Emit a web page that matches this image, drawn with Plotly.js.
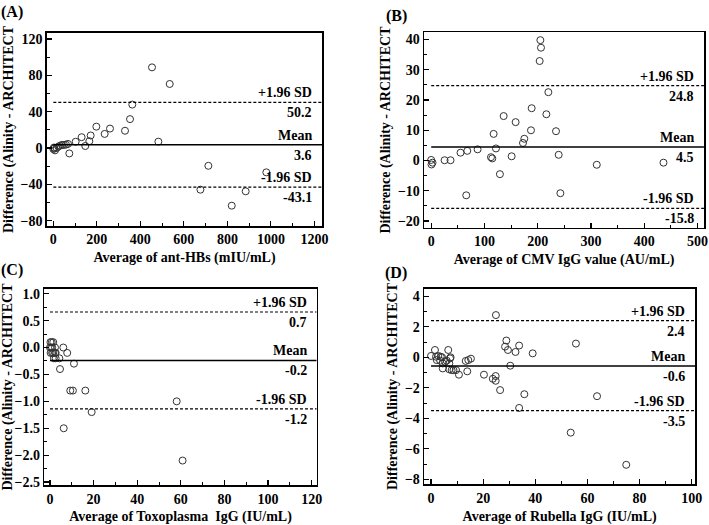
<!DOCTYPE html>
<html>
<head>
<meta charset="utf-8">
<script src="https://cdn.plot.ly/plotly-3.0.1.min.js"></script>
<style>html,body{margin:0;padding:0;background:#fff;}</style>
</head>
<body>
<div id="chart" style="width:709px;height:525px;"></div>
<script>
// ---- Panel A: anti-HBs ----
const aX = [0, 3, 5, 7.7, 15.3, 23, 30.7, 39.8, 49, 58.2, 67.4, 73.6, 102.7, 130, 147, 165.5, 171.6, 197.7, 236, 260.5, 329.5, 352.5, 363, 453.6, 482.8, 535, 676, 712.6, 820, 884, 979];
const aY = [-1.1, 0.5, -0.5, -2.6, 0, 1.5, 2.6, 3.4, 3.4, 3.7, 4.5, -6, 6.9, 11.9, 2.2, 7.5, 13.8, 23.5, 15.5, 21.4, 19, 31.8, 47.8, 88.8, 7, 70.5, -45.9, -19.6, -63.5, -47.7, -26.8];
const aLines = [50.2, 3.6, -43.1];
const aLabels = ["50.2", "3.6", "-43.1"];

// ---- Panel B: CMV IgG ----
const bX = [0, 0.6, 2.5, 25.1, 36.3, 55.1, 67.7, 65.8, 87.1, 112.2, 114.7, 117.2, 121.6, 129, 136, 151, 158.5, 172.3, 174.8, 187.3, 188.6, 203.6, 204.9, 206.1, 216.2, 219.9, 234.3, 239.3, 242.5, 310.8, 436];
const bY = [0.2, -1.3, -0.7, 0.1, 0.1, 2.6, 3.2, -11.5, 3.7, 1.1, 0.7, 8.8, 4.0, -4.5, 14.7, 1.4, 12.7, 5.8, 7.2, 10.0, 17.3, 32.9, 39.8, 37.3, 15.3, 22.6, 9.7, 1.9, -10.8, -1.4, -0.7];
const bLines = [24.8, 4.5, -15.8];
const bLabels = ["24.8", "4.5", "-15.8"];

// ---- Panel C: Toxoplasma IgG ----
const cX = [0.2, 0.8, 1.5, 0, 0.5, 1, 2.3, 0.3, 1, 1.5, 2.3, 2.6, 1.8, 2.6, 4.3, 4.6, 6.1, 7.9, 11, 9.3, 10.5, 16.2, 19.1, 6.3, 58.1, 60.8];
const cY = [0.1, 0.1, 0.1, 0, 0, 0, 0, -0.1, -0.1, -0.1, -0.1, -0.1, -0.2, -0.2, -0.2, -0.4, 0, -0.1, -0.3, -0.8, -0.8, -0.8, -1.2, -1.5, -1.0, -2.1];
const cLines = [0.66, -0.24, -1.14];
const cLabels = ["0.7", "-0.2", "-1.2"];

// ---- Panel D: Rubella IgG ----
const dX = [0, 1.5, 6.6, 1.9, 2.8, 3.7, 2.2, 3.5, 4.2, 4.5, 5.4, 6, 7.3, 7.5, 7, 4.5, 7, 7.9, 8.6, 9.6, 10.7, 13.3, 14.3, 15.3, 13.9, 20.3, 23.7, 24.8, 24.8, 26.5, 24.9, 28.9, 28.4, 29.5, 32.4, 33.8, 30.4, 39, 35.8, 33.8, 55.6, 63.7, 53.6, 74.9];
const dY = [0.09, 0.48, 0.48, 0.04, 0.09, 0.04, -0.18, -0.22, 0, -0.4, -0.29, -0.22, -0.07, 0, -0.4, -0.73, -0.79, -0.84, -0.84, -0.84, -1.14, -0.24, -0.18, -0.09, -0.92, -1.14, -1.41, -1.23, -1.54, -2.15, 2.77, 1.1, 0.7, 0.48, 0.35, 0.77, -0.55, 0.26, -2.42, -3.32, 0.9, -2.55, -4.94, -7.05];
const dLines = [2.4, -0.57, -3.5];
const dLabels = ["2.4", "-0.6", "-3.5"];

const xTitles = ["Average of ant-HBs (mIU/mL)", "Average of CMV IgG value (AU/mL)", "Average of Toxoplasma&nbsp; IgG (IU/mL)", "Average of Rubella IgG (IU/mL)"];
const yTitle = "Difference (Alinity - ARCHITECT";
const panelTags = ["(A)", "(B)", "(C)", "(D)"];
const lineNames = ["+1.96 SD", "Mean", "-1.96 SD"];

const FONT = "'Liberation Serif', 'Times New Roman', serif";

const panels = [
  {x: aX, y: aY, lines: aLines, labels: aLabels, xr: [-29, 1235], yr: [-85.9, 126.6], dx: 200, mx: 100, dy: 40, my: 20, yfmt: "",
   xd: [0.0663, 0.4542], yd: [0.5695, 0.9371]},
  {x: bX, y: bY, lines: bLines, labels: bLabels, xr: [-13, 512], yr: [-22.2, 42.4], dx: 100, mx: 50, dy: 10, my: 5, yfmt: "",
   xd: [0.5984, 0.9929], yd: [0.5663, 0.9385]},
  {x: cX, y: cY, lines: cLines, labels: cLabels, xr: [-2.6, 122.3], yr: [-2.56, 1.093], dx: 20, mx: 10, dy: 0.5, my: 0.25, yfmt: ".1f",
   xd: [0.0625, 0.4467], yd: [0.0756, 0.4501]},
  {x: dX, y: dY, lines: dLines, labels: dLabels, xr: [-2.6, 101.3], yr: [-8.33, 4.5], dx: 20, mx: 10, dy: 2, my: 1, yfmt: "",
   xd: [0.5984, 0.9803], yd: [0.0775, 0.4501]}
];

const traces = [];
const layout = {
  width: 709, height: 525,
  margin: {l: 0, r: 0, t: 0, b: 0},
  paper_bgcolor: "#fff", plot_bgcolor: "#fff",
  showlegend: false,
  font: {family: FONT, size: 14, color: "#000", weight: "bold"},
  shapes: [], annotations: []
};

const tagPos = [[12, 12], [396, 16], [12, 270], [396, 273]];

panels.forEach((p, i) => {
  const n = i === 0 ? "" : String(i + 1);
  const xa = "x" + n, ya = "y" + n;
  traces.push({
    type: "scatter", mode: "markers", x: p.x, y: p.y, xaxis: xa, yaxis: ya,
    marker: {symbol: "circle-open", size: 7, color: "#333", line: {width: 1, color: "#333"}},
    hoverinfo: "x+y"
  });
  const axCommon = {
    showline: true, mirror: true, linecolor: "#000", linewidth: 1.6,
    ticks: "inside", ticklen: 5, tickwidth: 1.2, tickcolor: "#000",
    showgrid: false, zeroline: false,
    tickfont: {family: FONT, size: 14, color: "#000", weight: "bold"},
    minor: {ticks: "inside", ticklen: 3, tickwidth: 1, tickcolor: "#000", showgrid: false}
  };
  layout["xaxis" + n] = Object.assign({}, axCommon, {
    domain: p.xd, range: p.xr, anchor: ya, dtick: p.dx, tick0: 0,
    minor: Object.assign({}, axCommon.minor, {dtick: p.mx, tick0: 0}),
    title: {text: xTitles[i], font: {family: FONT, size: 14, color: "#000", weight: "bold"}, standoff: 6}
  });
  layout["yaxis" + n] = Object.assign({}, axCommon, {
    domain: p.yd, range: p.yr, anchor: xa, dtick: p.dy, tick0: 0, tickformat: p.yfmt,
    minor: Object.assign({}, axCommon.minor, {dtick: p.my, tick0: 0}),
    title: {text: yTitle, font: {family: FONT, size: 14, color: "#000", weight: "bold"}, standoff: 4}
  });
  p.lines.forEach((v, k) => {
    layout.shapes.push({
      type: "line", xref: xa, yref: ya, x0: 0, x1: p.xr[1], y0: v, y1: v,
      line: {color: "#000", width: k === 1 ? 1.5 : 1.2, dash: k === 1 ? "solid" : "3px,2px"}
    });
    layout.annotations.push({
      xref: xa + " domain", yref: ya, x: 0.97, y: v, xanchor: "right", yanchor: "bottom",
      text: lineNames[k], showarrow: false, yshift: 0,
      font: {family: FONT, size: 14, color: "#000", weight: "bold"}
    });
    layout.annotations.push({
      xref: xa + " domain", yref: ya, x: 0.97, y: v, xanchor: "right", yanchor: "top",
      text: p.labels[k], showarrow: false, yshift: -1,
      font: {family: FONT, size: 14, color: "#000", weight: "bold"}
    });
  });
  layout.annotations.push({
    xref: "paper", yref: "paper", x: tagPos[i][0] / 709, y: 1 - tagPos[i][1] / 525,
    xanchor: "center", yanchor: "middle", text: panelTags[i], showarrow: false,
    font: {family: FONT, size: 16, color: "#000", weight: "bold"}
  });
});

Plotly.newPlot("chart", traces, layout, {displayModeBar: false, staticPlot: true});
</script>
</body>
</html>
